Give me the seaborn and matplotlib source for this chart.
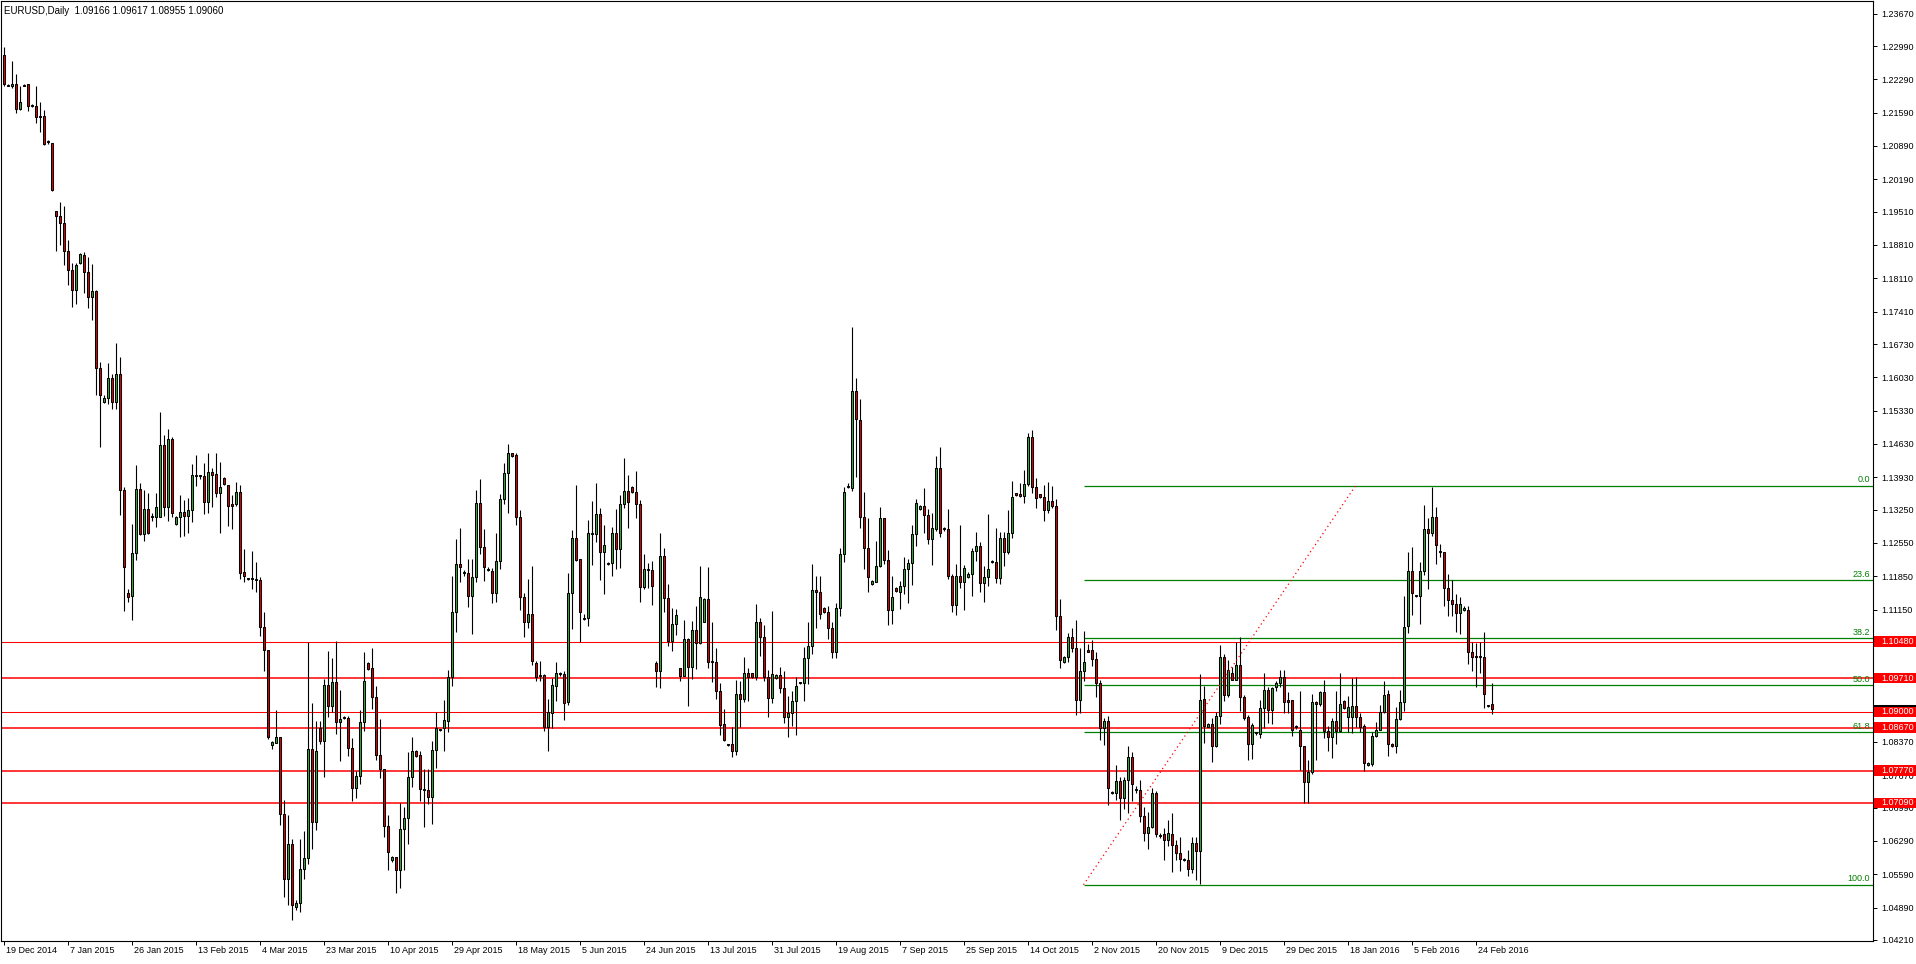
import numpy as np
import matplotlib
matplotlib.use("Agg")
import matplotlib.pyplot as plt
import matplotlib.transforms as mtransforms
from matplotlib.patches import Rectangle
import seaborn as sns

# ---------------- data (EURUSD daily bars, incl. sunday bars) ----------------
opens = [
    1.2281, 1.2217, 1.2214, 1.2220, 1.2166, 1.2218, 1.2219, 1.2175, 1.2172, 1.2151,
    1.2153, 1.2098, 1.2096, 1.1953, 1.1941, 1.1927, 1.1868, 1.1829, 1.1786, 1.1843,
    1.1860, 1.1824, 1.1771, 1.1784, 1.1623, 1.1551, 1.1560, 1.1601, 1.1551, 1.1610,
    1.1366, 1.1150, 1.1143, 1.1234, 1.1368, 1.1273, 1.1327, 1.1309, 1.1310, 1.1310,
    1.1461, 1.1331, 1.1473, 1.1294, 1.1310, 1.1321, 1.1312, 1.1325, 1.1397, 1.1396,
    1.1396, 1.1342, 1.1405, 1.1399, 1.1359, 1.1392, 1.1377, 1.1336, 1.1336, 1.1362,
    1.1193, 1.1181, 1.1180, 1.1178, 1.1177, 1.1078, 1.1030, 1.0831, 1.0835, 1.0847,
    1.0685, 1.0550, 1.0623, 1.0490, 1.0499, 1.0570, 1.0593, 1.0822, 1.0668, 1.0867,
    1.0838, 1.0957, 1.0912, 1.0963, 1.0878, 1.0888, 1.0888, 1.0824, 1.0740, 1.0765,
    1.0878, 1.1002, 1.0992, 1.0931, 1.0809, 1.0780, 1.0661, 1.0588, 1.0595, 1.0567,
    1.0655, 1.0678, 1.0764, 1.0818, 1.0809, 1.0738, 1.0736, 1.0722, 1.0820, 1.0862,
    1.0866, 1.0882, 1.0974, 1.1111, 1.1210, 1.1192, 1.1191, 1.1144, 1.1183, 1.1338,
    1.1247, 1.1198, 1.1197, 1.1149, 1.1218, 1.1347, 1.1403, 1.1444, 1.1440, 1.1310,
    1.1142, 1.1088, 1.1106, 1.1002, 1.0976, 1.0978, 1.0869, 1.0897, 1.0955, 1.0979,
    1.0979, 1.0920, 1.1149, 1.1265, 1.1221, 1.1096, 1.1097, 1.1273, 1.1273, 1.1315,
    1.1235, 1.1212, 1.1212, 1.1277, 1.1242, 1.1336, 1.1365, 1.1373, 1.1363, 1.1336,
    1.1163, 1.1200, 1.1198, 1.1002, 1.0985, 1.1228, 1.1140, 1.1050, 1.1085, 1.0992,
    1.0976, 1.1053, 1.0995, 1.1072, 1.1044, 1.1090, 1.1137, 1.1006, 1.1004, 1.0943,
    1.0874, 1.0831, 1.0832, 1.0819, 1.0937, 1.0927, 1.0981, 1.0981, 1.0974, 1.1088,
    1.1058, 1.0974, 1.0929, 1.0971, 1.0978, 1.0950, 1.0889, 1.0897, 1.0922, 1.0960,
    1.0960, 1.1014, 1.1039, 1.1156, 1.1151, 1.1118, 1.1111, 1.1076, 1.1025, 1.1118,
    1.1231, 1.1373, 1.1370, 1.1574, 1.1513, 1.1310, 1.1244, 1.1169, 1.1174, 1.1206,
    1.1307, 1.1220, 1.1114, 1.1160, 1.1153, 1.1165, 1.1200, 1.1212, 1.1274, 1.1326,
    1.1333, 1.1314, 1.1263, 1.1284, 1.1412, 1.1284, 1.1284, 1.1186, 1.1125, 1.1186,
    1.1172, 1.1184, 1.1190, 1.1238, 1.1249, 1.1170, 1.1183, 1.1217, 1.1214, 1.1181,
    1.1266, 1.1235, 1.1277, 1.1359, 1.1357, 1.1353, 1.1378, 1.1477, 1.1373, 1.1357,
    1.1352, 1.1324, 1.1343, 1.1333, 1.1102, 1.1004, 1.1016, 1.1057, 1.1034, 1.0925,
    1.0985, 1.1031, 1.1031, 1.1012, 1.0960, 1.0866, 1.0881, 1.0730, 1.0729, 1.0755,
    1.0719, 1.0757, 1.0805, 1.0737, 1.0736, 1.0682, 1.0645, 1.0659, 1.0729, 1.0641,
    1.0643, 1.0632, 1.0644, 1.0621, 1.0603, 1.0590, 1.0590, 1.0571, 1.0624, 1.0607,
    1.0927, 1.0869, 1.0875, 1.0829, 1.0891, 1.1016, 1.0936, 1.0981, 1.0968, 1.0999,
    1.0931, 1.0890, 1.0832, 1.0855, 1.0854, 1.0908, 1.0947, 1.0904, 1.0952, 1.0960,
    1.0973, 1.0925, 1.0925, 1.0869, 1.0863, 1.0828, 1.0752, 1.0773, 1.0920, 1.0916,
    1.0941, 1.0861, 1.0847, 1.0880, 1.0859, 1.0923, 1.0889, 1.0889, 1.0912, 1.0889,
    1.0871, 1.0789, 1.0791, 1.0849, 1.0863, 1.0900, 1.0937, 1.0832, 1.0828, 1.0886,
    1.0921, 1.1081, 1.1197, 1.1144, 1.1143, 1.1197, 1.1284, 1.1275, 1.1310, 1.1238,
    1.1235, 1.1160, 1.1135, 1.1126, 1.1107, 1.1114, 1.1114, 1.1025, 1.1017, 1.1016,
    1.1016, 1.0914, 1.09166,
]
highs = [
    1.2296, 1.2219, 1.2267, 1.2240, 1.2215, 1.2220, 1.2219, 1.2178, 1.2215, 1.2181,
    1.2164, 1.2102, 1.2096, 1.1953, 1.1972, 1.1962, 1.1891, 1.1843, 1.1843, 1.1865,
    1.1867, 1.1856, 1.1841, 1.1786, 1.1636, 1.1565, 1.1634, 1.1609, 1.1675, 1.1646,
    1.1372, 1.1158, 1.1294, 1.1418, 1.1380, 1.1366, 1.1360, 1.1317, 1.1360, 1.1531,
    1.1482, 1.1495, 1.1477, 1.1312, 1.1356, 1.1345, 1.1350, 1.1420, 1.1440, 1.1398,
    1.1424, 1.1444, 1.1413, 1.1445, 1.1426, 1.1394, 1.1377, 1.1356, 1.1384, 1.1377,
    1.1242, 1.1182, 1.1238, 1.1214, 1.1183, 1.1109, 1.1030, 1.0839, 1.0904, 1.0848,
    1.0715, 1.0684, 1.0633, 1.0505, 1.0633, 1.0650, 1.1047, 1.0919, 1.0882, 1.0880,
    1.0970, 1.1028, 1.1014, 1.1050, 1.0946, 1.0892, 1.0892, 1.0846, 1.0775, 1.0904,
    1.1026, 1.1004, 1.1035, 1.0955, 1.0885, 1.0780, 1.0684, 1.0597, 1.0595, 1.0708,
    1.0700, 1.0816, 1.0847, 1.0820, 1.0817, 1.0780, 1.0780, 1.0840, 1.0899, 1.0864,
    1.0925, 1.0988, 1.1186, 1.1263, 1.1286, 1.1199, 1.1221, 1.1221, 1.1366, 1.1389,
    1.1284, 1.1204, 1.1202, 1.1275, 1.1358, 1.1422, 1.1463, 1.1445, 1.1443, 1.1324,
    1.1149, 1.1179, 1.1207, 1.1007, 1.1007, 1.0980, 1.0927, 1.0971, 1.1004, 1.0983,
    1.0985, 1.1191, 1.1282, 1.1377, 1.1221, 1.1105, 1.1303, 1.1343, 1.1382, 1.1328,
    1.1293, 1.1214, 1.1289, 1.1326, 1.1356, 1.1433, 1.1398, 1.1375, 1.1406, 1.1345,
    1.1231, 1.1213, 1.1217, 1.1006, 1.1277, 1.1244, 1.1169, 1.1118, 1.1116, 1.0993,
    1.1093, 1.1055, 1.1091, 1.1123, 1.1207, 1.1140, 1.1205, 1.1088, 1.1034, 1.0960,
    1.0906, 1.0833, 1.0868, 1.0967, 1.0965, 1.1015, 1.0993, 1.0982, 1.1127, 1.1097,
    1.1083, 1.0988, 1.1112, 1.0980, 1.0995, 1.0986, 1.0934, 1.0943, 1.0974, 1.0962,
    1.1036, 1.1088, 1.1210, 1.1186, 1.1186, 1.1120, 1.1123, 1.1090, 1.1128, 1.1244,
    1.1372, 1.1380, 1.1708, 1.1601, 1.1557, 1.1362, 1.1307, 1.1178, 1.1259, 1.1330,
    1.1307, 1.1240, 1.1186, 1.1162, 1.1175, 1.1226, 1.1221, 1.1293, 1.1347, 1.1335,
    1.1370, 1.1326, 1.1317, 1.1438, 1.1457, 1.1288, 1.1326, 1.1190, 1.1211, 1.1293,
    1.1209, 1.1193, 1.1245, 1.1279, 1.1258, 1.1207, 1.1316, 1.1219, 1.1286, 1.1279,
    1.1279, 1.1324, 1.1385, 1.1361, 1.1380, 1.1408, 1.1485, 1.1492, 1.1391, 1.1358,
    1.1377, 1.1384, 1.1375, 1.1347, 1.1137, 1.1018, 1.1065, 1.1076, 1.1093, 1.1034,
    1.1070, 1.1042, 1.1052, 1.1027, 1.0967, 1.0887, 1.0892, 1.0733, 1.0789, 1.0764,
    1.0764, 1.0828, 1.0815, 1.0745, 1.0757, 1.0701, 1.0690, 1.0741, 1.0734, 1.0645,
    1.0656, 1.0672, 1.0687, 1.0630, 1.0638, 1.0593, 1.0610, 1.0638, 1.0638, 1.0980,
    1.0954, 1.0876, 1.0887, 1.0900, 1.1041, 1.1021, 1.1009, 1.0995, 1.1046, 1.1058,
    1.0936, 1.0894, 1.0877, 1.0858, 1.0925, 1.0981, 1.0953, 1.0953, 1.0964, 1.0989,
    1.0989, 1.0941, 1.0925, 1.0872, 1.0944, 1.0828, 1.0799, 1.0938, 1.0922, 1.0945,
    1.0967, 1.0871, 1.0887, 1.0944, 1.0981, 1.0926, 1.0934, 1.0972, 1.0974, 1.0897,
    1.0875, 1.0795, 1.0857, 1.0879, 1.0915, 1.0966, 1.0947, 1.0834, 1.0911, 1.0946,
    1.1144, 1.1235, 1.1246, 1.1146, 1.1216, 1.1335, 1.1308, 1.1373, 1.1330, 1.1253,
    1.1235, 1.1190, 1.1177, 1.1147, 1.1141, 1.1122, 1.1123, 1.1048, 1.1044, 1.1046,
    1.1067, 1.0915, 1.09617,
]
lows = [
    1.2215, 1.2214, 1.2211, 1.2158, 1.2164, 1.2214, 1.2162, 1.2170, 1.2137, 1.2118,
    1.2092, 1.2094, 1.1995, 1.1869, 1.1882, 1.1838, 1.1796, 1.1750, 1.1758, 1.1841,
    1.1781, 1.1749, 1.1723, 1.1565, 1.1457, 1.1549, 1.1547, 1.1537, 1.1537, 1.1314,
    1.1112, 1.1131, 1.1094, 1.1220, 1.1271, 1.1259, 1.1273, 1.1302, 1.1288, 1.1310,
    1.1311, 1.1302, 1.1310, 1.1293, 1.1267, 1.1269, 1.1277, 1.1300, 1.1374, 1.1389,
    1.1315, 1.1319, 1.1330, 1.1351, 1.1276, 1.1376, 1.1291, 1.1285, 1.1332, 1.1180,
    1.1173, 1.1178, 1.1158, 1.1152, 1.1059, 1.0985, 1.0843, 1.0822, 1.0834, 1.0663,
    1.0511, 1.0494, 1.0462, 1.0483, 1.0479, 1.0550, 1.0580, 1.0612, 1.0653, 1.0832,
    1.0764, 1.0889, 1.0899, 1.0854, 1.0798, 1.0885, 1.0807, 1.0712, 1.0719, 1.0748,
    1.0861, 1.0989, 1.0906, 1.0799, 1.0762, 1.0637, 1.0567, 1.0585, 1.0519, 1.0531,
    1.0569, 1.0623, 1.0742, 1.0805, 1.0712, 1.0659, 1.0706, 1.0664, 1.0783, 1.0859,
    1.0817, 1.0857, 1.0955, 1.1069, 1.1172, 1.1186, 1.1120, 1.1063, 1.1172, 1.1232,
    1.1176, 1.1197, 1.1128, 1.1132, 1.1200, 1.1337, 1.1319, 1.1436, 1.1293, 1.1114,
    1.1058, 1.1076, 1.0999, 1.0964, 1.0964, 1.0861, 1.0817, 1.0866, 1.0923, 1.0976,
    1.0884, 1.0915, 1.1074, 1.1218, 1.1046, 1.1094, 1.1081, 1.1209, 1.1256, 1.1177,
    1.1148, 1.1209, 1.1186, 1.1200, 1.1202, 1.1328, 1.1287, 1.1361, 1.1308, 1.1132,
    1.1158, 1.1161, 1.1125, 1.0953, 1.0951, 1.1109, 1.1039, 1.1029, 1.1062, 1.0966,
    1.0976, 1.0913, 1.0969, 1.0990, 1.1043, 1.1088, 1.0993, 1.0962, 1.0927, 1.0852,
    1.0838, 1.0829, 1.0806, 1.0810, 1.0868, 1.0920, 1.0922, 1.0972, 1.0967, 1.1018,
    1.0964, 1.0890, 1.0918, 1.0970, 1.0939, 1.0876, 1.0847, 1.0871, 1.0852, 1.0958,
    1.0922, 1.0958, 1.1021, 1.1077, 1.1095, 1.1108, 1.1053, 1.1014, 1.1014, 1.1102,
    1.1216, 1.1370, 1.1365, 1.1393, 1.1287, 1.1200, 1.1153, 1.1166, 1.1172, 1.1205,
    1.1211, 1.1083, 1.1085, 1.1153, 1.1116, 1.1148, 1.1128, 1.1167, 1.1249, 1.1324,
    1.1277, 1.1253, 1.1209, 1.1281, 1.1267, 1.1281, 1.1179, 1.1109, 1.1104, 1.1160,
    1.1114, 1.1182, 1.1143, 1.1218, 1.1153, 1.1132, 1.1165, 1.1213, 1.1170, 1.1169,
    1.1207, 1.1232, 1.1265, 1.1353, 1.1351, 1.1340, 1.1375, 1.1359, 1.1328, 1.1349,
    1.1302, 1.1319, 1.1328, 1.1072, 1.0993, 1.1002, 1.1004, 1.1027, 1.0894, 1.0898,
    1.0964, 1.1025, 1.0997, 1.0932, 1.0841, 1.0830, 1.0705, 1.0727, 1.0716, 1.0672,
    1.0697, 1.0687, 1.0712, 1.0729, 1.0668, 1.0629, 1.0613, 1.0656, 1.0638, 1.0635,
    1.0590, 1.0618, 1.0564, 1.0590, 1.0566, 1.0586, 1.0556, 1.0562, 1.0548, 1.0538,
    1.0834, 1.0868, 1.0794, 1.0826, 1.0875, 1.0922, 1.0931, 1.0967, 1.0967, 1.0903,
    1.0883, 1.0800, 1.0801, 1.0852, 1.0846, 1.0867, 1.0877, 1.0875, 1.0944, 1.0952,
    1.0897, 1.0897, 1.0850, 1.0865, 1.0779, 1.0708, 1.0708, 1.0770, 1.0800, 1.0913,
    1.0845, 1.0817, 1.0803, 1.0833, 1.0857, 1.0906, 1.0858, 1.0856, 1.0869, 1.0857,
    1.0775, 1.0786, 1.0786, 1.0848, 1.0862, 1.0897, 1.0807, 1.0827, 1.0813, 1.0884,
    1.0901, 1.1066, 1.1104, 1.1141, 1.1084, 1.1188, 1.1158, 1.1270, 1.1210, 1.1226,
    1.1123, 1.1101, 1.1102, 1.1067, 1.1063, 1.1112, 1.1001, 1.0987, 1.0953, 1.0981,
    1.0909, 1.0911, 1.08955,
]
closes = [
    1.2220, 1.2216, 1.2220, 1.2166, 1.2181, 1.2216, 1.2172, 1.2174, 1.2149, 1.2150,
    1.2094, 1.2097, 1.1997, 1.1941, 1.1927, 1.1868, 1.1829, 1.1786, 1.1840, 1.1863,
    1.1824, 1.1771, 1.1784, 1.1623, 1.1566, 1.1560, 1.1601, 1.1551, 1.1610, 1.1366,
    1.1205, 1.1141, 1.1234, 1.1368, 1.1273, 1.1327, 1.1275, 1.1310, 1.1331, 1.1461,
    1.1331, 1.1473, 1.1317, 1.1310, 1.1321, 1.1312, 1.1325, 1.1397, 1.1396, 1.1395,
    1.1342, 1.1405, 1.1398, 1.1359, 1.1373, 1.1378, 1.1332, 1.1332, 1.1362, 1.1192,
    1.1186, 1.1180, 1.1179, 1.1177, 1.1078, 1.1030, 1.0847, 1.0837, 1.0847, 1.0685,
    1.0550, 1.0623, 1.0494, 1.0499, 1.0570, 1.0593, 1.0822, 1.0668, 1.0818, 1.0838,
    1.0957, 1.0912, 1.0963, 1.0878, 1.0886, 1.0887, 1.0824, 1.0740, 1.0765, 1.0878,
    1.0966, 1.0991, 1.0932, 1.0809, 1.0780, 1.0661, 1.0606, 1.0595, 1.0567, 1.0655,
    1.0678, 1.0764, 1.0817, 1.0807, 1.0738, 1.0736, 1.0722, 1.0820, 1.0866, 1.0862,
    1.0883, 1.0973, 1.1111, 1.1210, 1.1205, 1.1191, 1.1144, 1.1183, 1.1338, 1.1247,
    1.1204, 1.1198, 1.1149, 1.1218, 1.1347, 1.1403, 1.1443, 1.1438, 1.1310, 1.1142,
    1.1088, 1.1106, 1.1006, 1.0974, 1.0977, 1.0869, 1.0899, 1.0957, 1.0981, 1.0979,
    1.0918, 1.1149, 1.1265, 1.1219, 1.1109, 1.1095, 1.1275, 1.1277, 1.1315, 1.1235,
    1.1251, 1.1211, 1.1277, 1.1242, 1.1336, 1.1365, 1.1342, 1.1363, 1.1336, 1.1163,
    1.1200, 1.1199, 1.1165, 1.0985, 1.1228, 1.1140, 1.1050, 1.1085, 1.1104, 1.0976,
    1.1053, 1.0995, 1.1072, 1.1044, 1.1141, 1.1137, 1.1004, 1.1005, 1.0943, 1.0873,
    1.0841, 1.0831, 1.0819, 1.0937, 1.0927, 1.0981, 1.0974, 1.0974, 1.1088, 1.1058,
    1.0974, 1.0930, 1.0979, 1.0978, 1.0950, 1.0889, 1.0897, 1.0922, 1.0955, 1.0960,
    1.1014, 1.1039, 1.1156, 1.1151, 1.1106, 1.1111, 1.1076, 1.1025, 1.1118, 1.1231,
    1.1363, 1.1373, 1.1574, 1.1515, 1.1310, 1.1244, 1.1184, 1.1175, 1.1206, 1.1307,
    1.1219, 1.1114, 1.1141, 1.1155, 1.1165, 1.1200, 1.1212, 1.1274, 1.1338, 1.1333,
    1.1314, 1.1263, 1.1286, 1.1412, 1.1277, 1.1284, 1.1186, 1.1125, 1.1186, 1.1172,
    1.1202, 1.1190, 1.1238, 1.1249, 1.1170, 1.1183, 1.1200, 1.1216, 1.1181, 1.1266,
    1.1235, 1.1277, 1.1351, 1.1356, 1.1353, 1.1378, 1.1477, 1.1373, 1.1350, 1.1352,
    1.1324, 1.1343, 1.1333, 1.1102, 1.1009, 1.1016, 1.1057, 1.1034, 1.0925, 1.0986,
    1.1004, 1.1027, 1.1012, 1.0960, 1.0866, 1.0881, 1.0741, 1.0729, 1.0755, 1.0719,
    1.0757, 1.0805, 1.0748, 1.0736, 1.0682, 1.0645, 1.0659, 1.0729, 1.0644, 1.0640,
    1.0632, 1.0645, 1.0621, 1.0603, 1.0592, 1.0589, 1.0571, 1.0624, 1.0607, 1.0925,
    1.0871, 1.0875, 1.0829, 1.0891, 1.1016, 1.0936, 1.0988, 1.0968, 1.0999, 1.0931,
    1.0888, 1.0832, 1.0873, 1.0855, 1.0908, 1.0947, 1.0904, 1.0950, 1.0961, 1.0973,
    1.0920, 1.0920, 1.0863, 1.0869, 1.0828, 1.0752, 1.0773, 1.0920, 1.0916, 1.0941,
    1.0861, 1.0847, 1.0880, 1.0859, 1.0916, 1.0909, 1.0911, 1.0912, 1.0889, 1.0869,
    1.0793, 1.0793, 1.0849, 1.0863, 1.0900, 1.0936, 1.0832, 1.0828, 1.0886, 1.0921,
    1.1079, 1.1197, 1.1149, 1.1143, 1.1197, 1.1284, 1.1275, 1.1309, 1.1251, 1.1237,
    1.1160, 1.1135, 1.1126, 1.1107, 1.1126, 1.1119, 1.1025, 1.1016, 1.1016, 1.1016,
    1.0937, 1.0913, 1.0906,
]

# one time label every 16 bars
date_labels = [
    "19 Dec 2014", "7 Jan 2015", "26 Jan 2015", "13 Feb 2015", "4 Mar 2015", "23 Mar 2015",
    "10 Apr 2015", "29 Apr 2015", "18 May 2015", "5 Jun 2015", "24 Jun 2015", "13 Jul 2015",
    "31 Jul 2015", "19 Aug 2015", "7 Sep 2015", "25 Sep 2015", "14 Oct 2015", "2 Nov 2015",
    "20 Nov 2015", "9 Dec 2015", "29 Dec 2015", "18 Jan 2016", "5 Feb 2016", "24 Feb 2016",
]
price_ticks = [
    1.2367, 1.2299, 1.2229, 1.2159, 1.2089, 1.2019, 1.1951, 1.1881, 1.1811, 1.1741,
    1.1673, 1.1603, 1.1533, 1.1463, 1.1393, 1.1325, 1.1255, 1.1185, 1.1115, 1.1045,
    1.0975, 1.0905, 1.0837, 1.0767, 1.0699, 1.0629, 1.0559, 1.0489, 1.0421,
]

# horizontal support / resistance lines
level_prices = [1.1048, 1.0971, 1.0900, 1.0867, 1.0777, 1.0709]
level_widths = [0.75, 1.1, 0.75, 1.1, 1.1, 1.1]

# fibonacci retracement
fib_ratios = [0.0, 23.6, 38.2, 50.0, 61.8, 100.0]
fib_high = 1.1375
fib_low = 1.0537
fib_start_bar = 270
fib_end_bar = 338

bid_price = 1.0906
header = "EURUSD,Daily  1.09166 1.09617 1.08955 1.09060"

# ---------------- figure ----------------
sns.set_theme(style="white")
plt.rcParams["font.family"] = ["Liberation Sans", "DejaVu Sans"]

W, H = 1916, 964
PX_PER_PRICE = 4760.0
fig = plt.figure(figsize=(W / 100, H / 100), dpi=100)
fig.patch.set_facecolor("white")
ax = fig.add_axes([1 / W, (H - 941) / H, 1872 / W, 940 / H])
ax.set_facecolor("white")

o = np.array(opens)
h = np.array(highs)
l = np.array(lows)
c = np.array(closes)
x = np.arange(len(c))

xmin, xmax = (1 - 3.5) / 4, (1873 - 3.5) / 4
ax.set_xlim(xmin, xmax)
ax.set_ylim(1.23957 - 941 / PX_PER_PRICE, 1.23957 - 1 / PX_PER_PRICE)

# levels (behind candles)
for p, lw in zip(level_prices, level_widths):
    ax.axhline(p, color="#ff0000", lw=lw, zorder=1)

fib_levels = [fib_high - r / 100 * (fib_high - fib_low) for r in fib_ratios]
ax.hlines(fib_levels, fib_start_bar, xmax, color="#008000", lw=0.9, zorder=1)
for r, p in zip(fib_ratios, fib_levels):
    ax.annotate(f"{r:.1f}", xy=(xmax, p), xytext=(-2, 1), textcoords="offset points",
                ha="right", va="bottom", color="#008000", fontsize=6.5, zorder=4)
ax.plot([fib_start_bar, fib_end_bar], [fib_low, fib_high], color="#ff0000",
        lw=0.9, linestyle=(0, (1, 2.5)), zorder=4)

# candles
min_body = 1 / PX_PER_PRICE
up = c >= o
colors = np.where(up, "#2fae2f", "#e00000")
ax.vlines(x, l, h, color="black", lw=0.8, zorder=2)
ax.bar(x, np.maximum(np.abs(c - o), min_body), bottom=np.minimum(o, c), width=0.5,
       color=colors, edgecolor="black", linewidth=0.75, zorder=3)

# axes cosmetics
for s in ax.spines.values():
    s.set_color("black")
    s.set_linewidth(0.8)
ax.grid(False)

ax.yaxis.tick_right()
ax.set_yticks(price_ticks)
ax.set_yticklabels([f"{v:.5f}" for v in price_ticks])
ax.tick_params(axis="y", which="major", direction="out", length=3, width=0.7,
               pad=3, labelsize=6.5, colors="black", right=True, left=False)

tick_bars = np.arange(len(date_labels)) * 16
ax.set_xticks(tick_bars)
ax.set_xticklabels([])
ax.tick_params(axis="x", which="major", direction="out", length=3, width=0.7,
               colors="black", bottom=True)
for b, lab in zip(tick_bars, date_labels):
    ax.annotate(lab, xy=(b, 0), xycoords=("data", "axes fraction"), xytext=(1.5, -3.5),
                textcoords="offset points", ha="left", va="top", fontsize=6.5,
                color="black", annotation_clip=False)

# price labels on the axis
blend = mtransforms.blended_transform_factory(fig.transFigure, ax.transData)
box_h = 10.5 / PX_PER_PRICE
bid_h = 8 / PX_PER_PRICE
ax.add_patch(Rectangle((1874 / W, bid_price - bid_h / 2), 42 / W, bid_h, transform=blend,
                       facecolor="black", edgecolor="none", clip_on=False, zorder=5))
for p in level_prices:
    ax.add_patch(Rectangle((1874 / W, p - box_h / 2), 42 / W, box_h, transform=blend,
                           facecolor="#ff0000", edgecolor="none", clip_on=False, zorder=6))
    ax.text(1881 / W, p, f"{p:.5f}", transform=blend, color="white", fontsize=6.5,
            ha="left", va="center", clip_on=False, zorder=7)

fig.text(4 / W, 1 - 10.5 / H, header, fontsize=7, ha="left", va="center", color="black")

fig.savefig("out.png", dpi=100, facecolor="white")
